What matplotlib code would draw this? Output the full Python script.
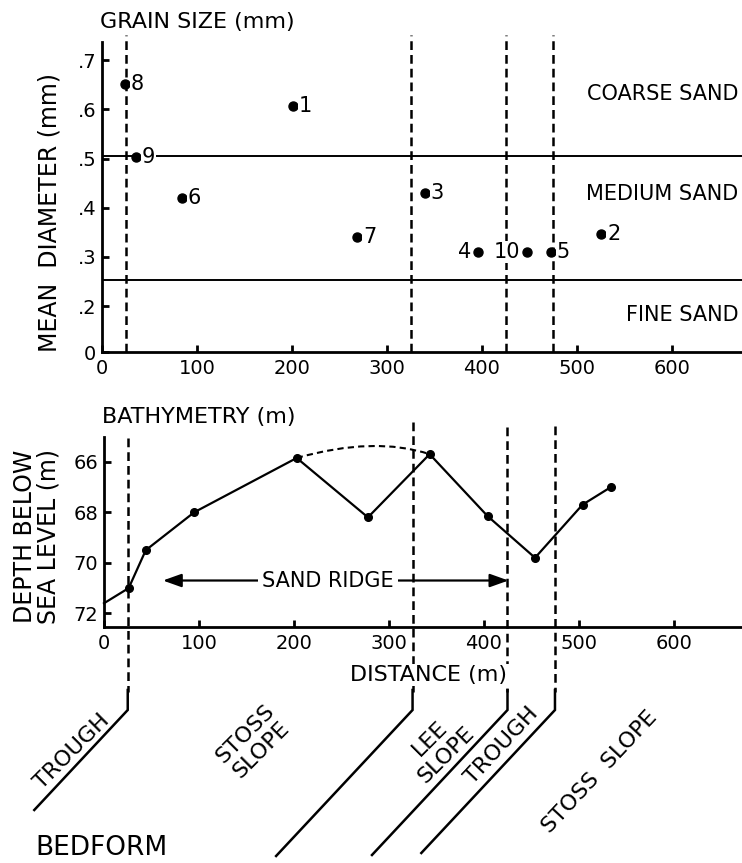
import numpy as np
import matplotlib.pyplot as plt
from matplotlib.path import Path
from matplotlib.patches import PathPatch

# --- grain size samples (numbered stations) ---
sample_id = ['1', '2', '3', '4', '5', '6', '7', '8', '9', '10']
sample_dist = [201, 526, 340, 396, 473, 84, 269, 24, 36, 448]
sample_diam = [0.607, 0.346, 0.43, 0.31, 0.31, 0.42, 0.34, 0.651, 0.503, 0.31]
label_side = ['r', 'r', 'r', 'l', 'r', 'r', 'r', 'r', 'r', 'l']

# grain size class limits (mm)
coarse_medium = 0.505
medium_fine = 0.252

# --- bathymetry profile ---
profile_dist = [0, 26, 44, 95, 203, 278, 343, 404, 454, 504, 534]
profile_depth = [71.6, 71.0, 69.5, 68.0, 65.85, 68.2, 65.7, 68.15, 69.8, 67.7, 67.0]
# inferred crest between 203 m and 343 m (start, control, end)
crest_dist = [203, 285, 343]
crest_depth = [65.85, 64.98, 65.7]

ridge_extent = [62, 426]
ridge_depth = 70.7

# bedform boundaries (m)
bedform_bounds = [25, 325, 425, 475]

W, H = 742, 863
fig = plt.figure(figsize=(W / 100, H / 100), dpi=100)
plt.rcParams['font.family'] = ['DejaVu Sans']

DASH = (0, (3.5, 2.0))
LW = 1.8


def px_rect(left, top, right, bottom):
    return [left / W, 1 - bottom / H, (right - left) / W, (bottom - top) / H]


def style_axes(ax):
    for s in ['top', 'right']:
        ax.spines[s].set_visible(False)
    for s in ['left', 'bottom']:
        ax.spines[s].set_linewidth(2.0)
    ax.tick_params(direction='in', length=5, width=2, labelsize=14)
    ax.tick_params(axis='x', pad=5)
    ax.tick_params(axis='y', pad=4)


# ---------- top panel: grain size ----------
ax1 = fig.add_axes(px_rect(102, 42, W, 352))
ax1.set_xlim(0, 674)
ax1.set_ylim(0.1065, 0.737)
style_axes(ax1)
ax1.set_xticks([0, 100, 200, 300, 400, 500, 600])
ax1.set_yticks([0.1065, 0.2, 0.3, 0.4, 0.5, 0.6, 0.7])
ax1.set_yticklabels(['0', '.2', '.3', '.4', '.5', '.6', '.7'])

ax1.axhline(coarse_medium, color='k', lw=1.4)
ax1.axhline(medium_fine, color='k', lw=1.4)

ax1.plot(sample_dist, sample_diam, 'o', color='k', ms=6.5, zorder=4)
for sid, x, y, side in zip(sample_id, sample_dist, sample_diam, label_side):
    if side == 'r':
        off, ha = (4, 0), 'left'
    else:
        off, ha = (-5, 0), 'right'
    ax1.annotate(sid, (x, y), xytext=off, textcoords='offset points',
                 ha=ha, va='center', fontsize=15, zorder=5,
                 bbox=dict(facecolor='white', edgecolor='none', pad=0.5))

for xb in bedform_bounds:
    ax1.axvline(xb, ymin=0, ymax=1.022, color='k', lw=LW, ls=DASH, clip_on=False)

ax1.text(0.994, 0.832, 'COARSE SAND', transform=ax1.transAxes, ha='right',
         va='center', fontsize=15)
ax1.text(0.994, 0.51, 'MEDIUM SAND', transform=ax1.transAxes, ha='right',
         va='center', fontsize=15)
ax1.text(0.994, 0.12, 'FINE SAND', transform=ax1.transAxes, ha='right',
         va='center', fontsize=15)

fig.text(100 / W, 1 - 22 / H, 'GRAIN SIZE (mm)', ha='left', va='center', fontsize=16)
fig.text(50 / W, 1 - 213 / H, 'MEAN  DIAMETER (mm)', ha='center', va='center',
         rotation=90, fontsize=17)

# ---------- bottom panel: bathymetry ----------
ax2 = fig.add_axes(px_rect(104, 437, W, 627))
ax2.set_xlim(0, 672)
ax2.set_ylim(72.54, 65.02)
style_axes(ax2)
ax2.set_xticks([0, 100, 200, 300, 400, 500, 600])
ax2.set_yticks([66, 68, 70, 72])

ax2.plot(profile_dist, profile_depth, color='k', lw=1.6, clip_on=False)
ax2.plot(profile_dist[1:], profile_depth[1:], 'o', color='k', ms=5.5, clip_on=False)

crest = Path(list(zip(crest_dist, crest_depth)), [Path.MOVETO, Path.CURVE3, Path.CURVE3])
ax2.add_patch(PathPatch(crest, facecolor='none', edgecolor='k', lw=1.5,
                        ls=(0, (3, 2))))

ax2.annotate('', xy=(ridge_extent[0], ridge_depth), xytext=(ridge_extent[1], ridge_depth),
             arrowprops=dict(arrowstyle='<|-|>,head_length=0.7,head_width=0.25',
                             color='k', lw=1.6, mutation_scale=16, shrinkA=0, shrinkB=0))
ax2.text(np.mean(ridge_extent) - 8, ridge_depth, 'SAND RIDGE', ha='center', va='center',
         fontsize=15, zorder=5,
         bbox=dict(facecolor='white', edgecolor='none', pad=3))

fig.text(102 / W, 1 - 417 / H, 'BATHYMETRY (m)', ha='left', va='center', fontsize=16)
fig.text(37 / W, 1 - 536 / H, 'DEPTH BELOW\nSEA LEVEL (m)', ha='center', va='center',
         rotation=90, fontsize=17, linespacing=1.0)

# ---------- bedform boundaries and labels (pixel overlay) ----------
ov = fig.add_axes([0, 0, 1, 1])
ov.set_xlim(0, W)
ov.set_ylim(H, 0)
ov.axis('off')

line_top = [438, 422, 427, 426]
diag_drop = [100, 146, 145, 143]
for xb, top, drop in zip(bedform_bounds, line_top, diag_drop):
    xp = ax2.transData.transform((xb, 70))[0]
    ov.plot([xp, xp], [top, 692], color='k', lw=LW, ls=DASH)
    ov.plot([xp, xp, xp - drop / 1.07], [690, 710, 710 + drop], color='k', lw=LW,
            solid_joinstyle='miter')

ov.text(429, 675, 'DISTANCE (m)', ha='center', va='center', fontsize=16, zorder=5,
        bbox=dict(facecolor='white', edgecolor='none', pad=1))

bed_labels = [('TROUGH', 72, 752, 45), ('STOSS\nSLOPE', 253, 742, 45),
              ('LEE\nSLOPE', 438, 747, 45), ('TROUGH', 502, 746, 47),
              ('STOSS  SLOPE', 600, 772, 47)]
for txt, x, y, rot in bed_labels:
    ov.text(x, y, txt, ha='center', va='center', rotation=rot, fontsize=16,
            rotation_mode='anchor', multialignment='center')

ov.text(35, 848, 'BEDFORM', ha='left', va='center', fontsize=19)

fig.savefig('out.png', dpi=100)
